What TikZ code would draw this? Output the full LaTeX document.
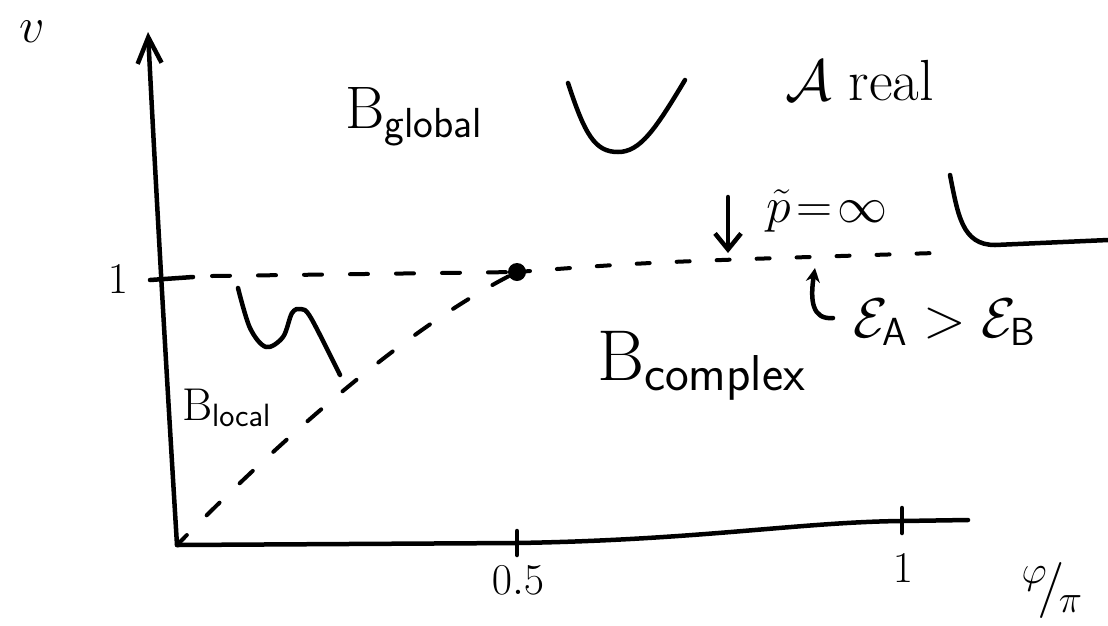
\RequirePackage{fix-cm}
\documentclass[tikz,border=0pt]{standalone}
\usepackage{amsmath,amssymb}
\usetikzlibrary{arrows.meta}
\newcommand{\fsz}[1]{\fontsize{#1}{#1}\selectfont}
\begin{document}
\begin{tikzpicture}[x=1pt,y=-1pt,
  pen/.style={line width=4.5pt, line cap=round, line join=round},
  dashline/.style={line width=4pt, line cap=round, dash pattern=on 18pt off 28pt},
  dashlinetwo/.style={line width=4pt, line cap=round, dash pattern=on 13pt off 27pt},
  lab/.style={inner sep=0pt, outer sep=0pt}]
\useasboundingbox (0,0) rectangle (1108,625);
% key points
\coordinate (O) at (177,545);
\coordinate (ytop) at (148,32);
\coordinate (dot) at (517,272);
\coordinate (xhalf) at (517,543);
\coordinate (xone) at (902,521);
\coordinate (xend) at (968,520);
% axes
\draw[pen, -{Straight Barb[length=26pt,width=24pt]}] (O) .. controls (170,430) and (158,230) .. (ytop);
\draw[pen] (O) -- (xhalf) .. controls (700,540) and (800,522) .. (xone) -- (xend);
\draw[pen] (150,280) -- (193,277);
\draw[pen] (517,531) -- (517,555);
\draw[pen] (902,508) -- (902,533);
% dashed boundaries
\draw[dashline] (212,276) -- (dot);
\draw[dashlinetwo] (dot) .. controls (650,262) .. (935,253);
\draw[dashline, dash phase=4pt] (O) .. controls (300,420) and (420,320) .. (dot);
\fill (dot) circle (9pt);
% sketches of potentials
\draw[pen] (568,83) .. controls (585,135) and (595,152) .. (618,152) .. controls (640,152) and (655,130) .. (685,80);
\draw[pen] (950,175) .. controls (958,215) and (962,245) .. (995,245) -- (1108,240);
\draw[pen] plot[smooth, tension=0.55] coordinates {(238,288) (250,328) (266,347) (283,337) (292,313) (301,309) (311,318) (340,375)};
% arrows
\coordinate (pa) at (728,197);
\coordinate (pb) at (728,253);
\draw[pen, -{Straight Barb[length=16pt,width=26pt]}] (pa) -- (pb);
\coordinate (ha) at (833,318);
\coordinate (hb) at (815,268);
\draw[pen, -{Stealth[length=14pt,width=14pt]}] (ha) .. controls (812,320) and (810,300) .. (hb);
% labels
\node[lab, font=\fsz{50}] (vlab) at (32,32) {$v$};
\node[lab, font=\fsz{44}] (one) at (118,279) {$1$};
\node[lab, font=\fsz{44}] (half) at (518,580) {$0.5$};
\node[lab, font=\fsz{44}] (onex) at (903,568) {$1$};
\node[lab, font=\fsz{56}] (phipi) at (1052,590) {${}^{\varphi}\!/_{\!\pi}$};
\node[lab, font=\fsz{60}, anchor=base west] (bglob) at (345,128) {$\mathrm{B}_{\textsf{global}}$};
\node[lab, font=\fsz{72}, anchor=base west] (bcomp) at (597,380) {$\mathrm{B}_{\textsf{complex}}$};
\node[lab, font=\fsz{46}, anchor=base west] (bloc) at (182,420) {$\mathrm{B}_{\textsf{local}}$};
\node[lab, font=\fsz{58}, anchor=base west] (areal) at (785,100) {$\mathcal{A}$ real};
\node[lab, font=\fsz{50}, anchor=base west] (pinf) at (766,222) {$\tilde{p}\!=\!\infty$};
\node[lab, font=\fsz{56}, anchor=base west] (eps) at (853,337) {$\mathcal{E}_{\textsf{A}}>\mathcal{E}_{\textsf{B}}$};
\end{tikzpicture}
\end{document}
